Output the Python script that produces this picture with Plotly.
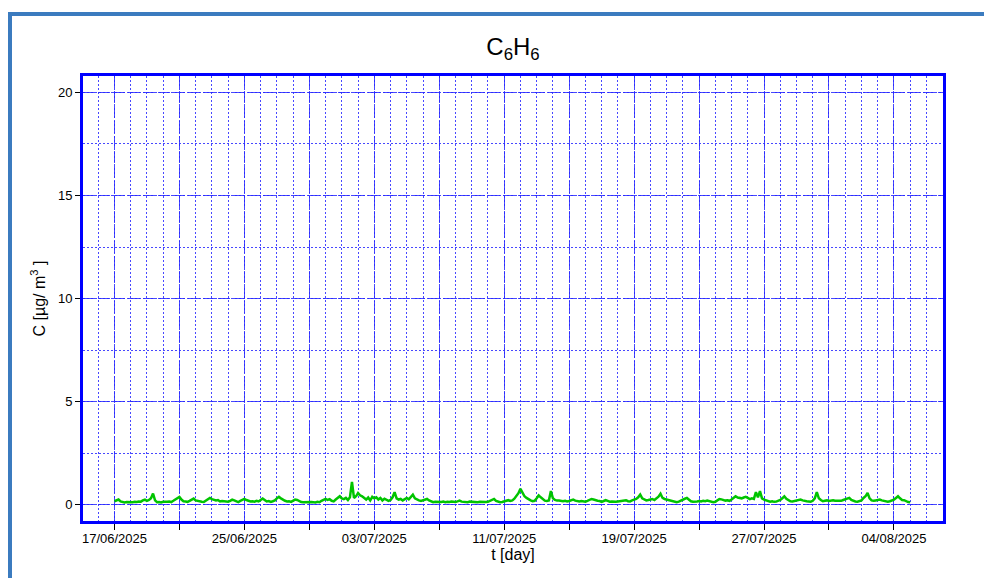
import pandas as pd
import plotly.graph_objects as go

# 3-hourly C6H6 concentrations [µg/m3], 17/06/2025 00:00 -> 05/08/2025 00:00
week1 = [0.16,0.20,0.24,0.15,0.12,0.10,0.12,0.11,
         0.10,0.11,0.13,0.12,0.15,0.14,0.20,0.24,
         0.18,0.22,0.30,0.53,0.20,0.11,0.12,0.10,
         0.13,0.12,0.13,0.15,0.12,0.18,0.25,0.33,
         0.37,0.24,0.16,0.15,0.13,0.18,0.22,0.29,
         0.20,0.17,0.16,0.13,0.12,0.18,0.26,0.32,
         0.26,0.24,0.20,0.22,0.15,0.17,0.15,0.16]
week2 = [0.14,0.18,0.24,0.20,0.15,0.12,0.18,0.24,
         0.27,0.22,0.18,0.15,0.16,0.14,0.18,0.15,
         0.22,0.29,0.22,0.15,0.17,0.13,0.16,0.20,
         0.30,0.37,0.30,0.22,0.18,0.15,0.16,0.13,
         0.18,0.24,0.22,0.15,0.12,0.11,0.12,0.10,
         0.11,0.12,0.11,0.10,0.13,0.11,0.18,0.22,
         0.27,0.22,0.26,0.18,0.15,0.24,0.32,0.40]
week3 = [0.30,0.26,0.32,0.22,0.35,1.10,0.32,0.40,
         0.56,0.45,0.40,0.30,0.24,0.34,0.20,0.37,
         0.30,0.35,0.24,0.32,0.20,0.28,0.24,0.18,
         0.22,0.35,0.60,0.30,0.24,0.27,0.20,0.28,
         0.32,0.25,0.38,0.48,0.30,0.24,0.20,0.17,
         0.20,0.24,0.27,0.20,0.15,0.11,0.13,0.12,
         0.13,0.12,0.14,0.11,0.13,0.12,0.15,0.13]
week4 = [0.12,0.15,0.19,0.14,0.12,0.13,0.11,0.14,
         0.13,0.14,0.12,0.11,0.13,0.12,0.14,0.12,
         0.13,0.18,0.24,0.27,0.18,0.13,0.11,0.12,
         0.15,0.18,0.21,0.17,0.20,0.28,0.40,0.55,
         0.76,0.55,0.40,0.32,0.25,0.20,0.16,0.18,
         0.30,0.44,0.35,0.25,0.19,0.17,0.20,0.65,
         0.30,0.22,0.19,0.20,0.17,0.16,0.18,0.15]
week5 = [0.17,0.20,0.24,0.19,0.16,0.15,0.17,0.16,
         0.14,0.18,0.22,0.27,0.24,0.20,0.18,0.17,
         0.13,0.17,0.21,0.18,0.14,0.15,0.13,0.13,
         0.15,0.17,0.16,0.20,0.21,0.16,0.15,0.20,
         0.24,0.27,0.35,0.48,0.30,0.24,0.20,0.22,
         0.24,0.27,0.22,0.30,0.38,0.52,0.32,0.27,
         0.24,0.21,0.20,0.16,0.13,0.11,0.14,0.20]
week6 = [0.25,0.28,0.32,0.22,0.16,0.14,0.13,0.15,
         0.17,0.15,0.18,0.16,0.19,0.17,0.13,0.11,
         0.13,0.20,0.27,0.25,0.22,0.19,0.21,0.18,
         0.24,0.30,0.40,0.34,0.32,0.30,0.34,0.37,
         0.32,0.26,0.30,0.27,0.60,0.35,0.65,0.30,
         0.24,0.20,0.18,0.14,0.16,0.13,0.14,0.18,
         0.22,0.30,0.40,0.28,0.20,0.16,0.15,0.18]
week7 = [0.20,0.22,0.24,0.20,0.17,0.16,0.15,0.14,
         0.18,0.30,0.60,0.30,0.22,0.16,0.18,0.20,
         0.17,0.19,0.21,0.18,0.17,0.16,0.18,0.22,
         0.26,0.30,0.32,0.22,0.17,0.15,0.14,0.16,
         0.20,0.32,0.40,0.56,0.30,0.20,0.18,0.20,
         0.22,0.24,0.20,0.17,0.15,0.14,0.16,0.20,
         0.24,0.32,0.40,0.30,0.22,0.21,0.15,0.12,
         0.11]

values = week1 + week2 + week3 + week4 + week5 + week6 + week7
times = pd.date_range("2025-06-17 00:00", periods=len(values), freq="3h")

tick_dates = pd.date_range("2025-06-17", "2025-08-04", freq="4D")
tick_labels = [d.strftime("%d/%m/%Y") if i % 2 == 0 else "" for i, d in enumerate(tick_dates)]
y_ticks = [0, 5, 10, 15, 20]

grid_blue = "rgba(40,40,255,0.85)"

fig = go.Figure()
fig.add_trace(go.Scatter(x=times, y=values, mode="lines",
                         line=dict(color="#00c400", width=2.5), showlegend=False))

# the page body has an 8px offset, so figure coords = screen coords - 8
OFF = 8
W, H = 992 - OFF, 578 - OFF
L, R, T, B = 83 - OFF, 49, 76 - OFF, 57
pw, ph = W - L - R, H - T - B

def px_x(p):
    return (p - OFF - L) / pw

def px_y(p):
    return (H - B - (p - OFF)) / ph

fig.add_shape(type="rect", xref="paper", yref="paper",
              x0=px_x(10), x1=px_x(1010), y0=px_y(600), y1=px_y(14),
              line=dict(color="#3b7bbf", width=4), layer="below")

fig.update_layout(
    width=W, height=H,
    margin=dict(l=L, r=R, t=T, b=B),
    paper_bgcolor="white", plot_bgcolor="white",
    font=dict(family="Arial, Liberation Sans", color="black"),
    title=dict(text="C<sub>6</sub>H<sub>6</sub>", x=0.5, xref="paper", xanchor="center",
               y=1 - (47 - OFF) / H, yanchor="middle", font=dict(size=24, color="black")),
)

fig.update_xaxes(
    type="date",
    range=["2025-06-15 01:30", "2025-08-07 00:30"],
    tickmode="array", tickvals=tick_dates, ticktext=tick_labels,
    ticks="outside", ticklen=6, tickcolor="black", tickwidth=1,
    tickfont=dict(size=13), ticklabelstandoff=-3,
    showgrid=True, gridcolor=grid_blue, gridwidth=1, griddash="12px,3px",
    minor=dict(tick0="2025-06-17", dtick=86400000, showgrid=True,
               gridcolor=grid_blue, gridwidth=1, griddash="2px,2px", ticks=""),
    showline=True, linecolor="#0000ff", linewidth=3, mirror=True,
    zeroline=False,
    title=dict(text="t [day]", font=dict(size=16), standoff=0),
)
fig.update_yaxes(
    range=[-0.8, 20.8],
    tickmode="array", tickvals=y_ticks,
    ticks="outside", ticklen=5, tickcolor="black", tickwidth=1,
    tickfont=dict(size=13),
    showgrid=True, gridcolor=grid_blue, gridwidth=1, griddash="12px,3px",
    minor=dict(tick0=0, dtick=2.5, showgrid=True,
               gridcolor=grid_blue, gridwidth=1, griddash="2px,2px", ticks=""),
    showline=True, linecolor="#0000ff", linewidth=3, mirror=True,
    zeroline=False,
    title=dict(text="C [µg/ m<sup>3</sup> ]", font=dict(size=16), standoff=9),
)

fig.write_html("out.html")
